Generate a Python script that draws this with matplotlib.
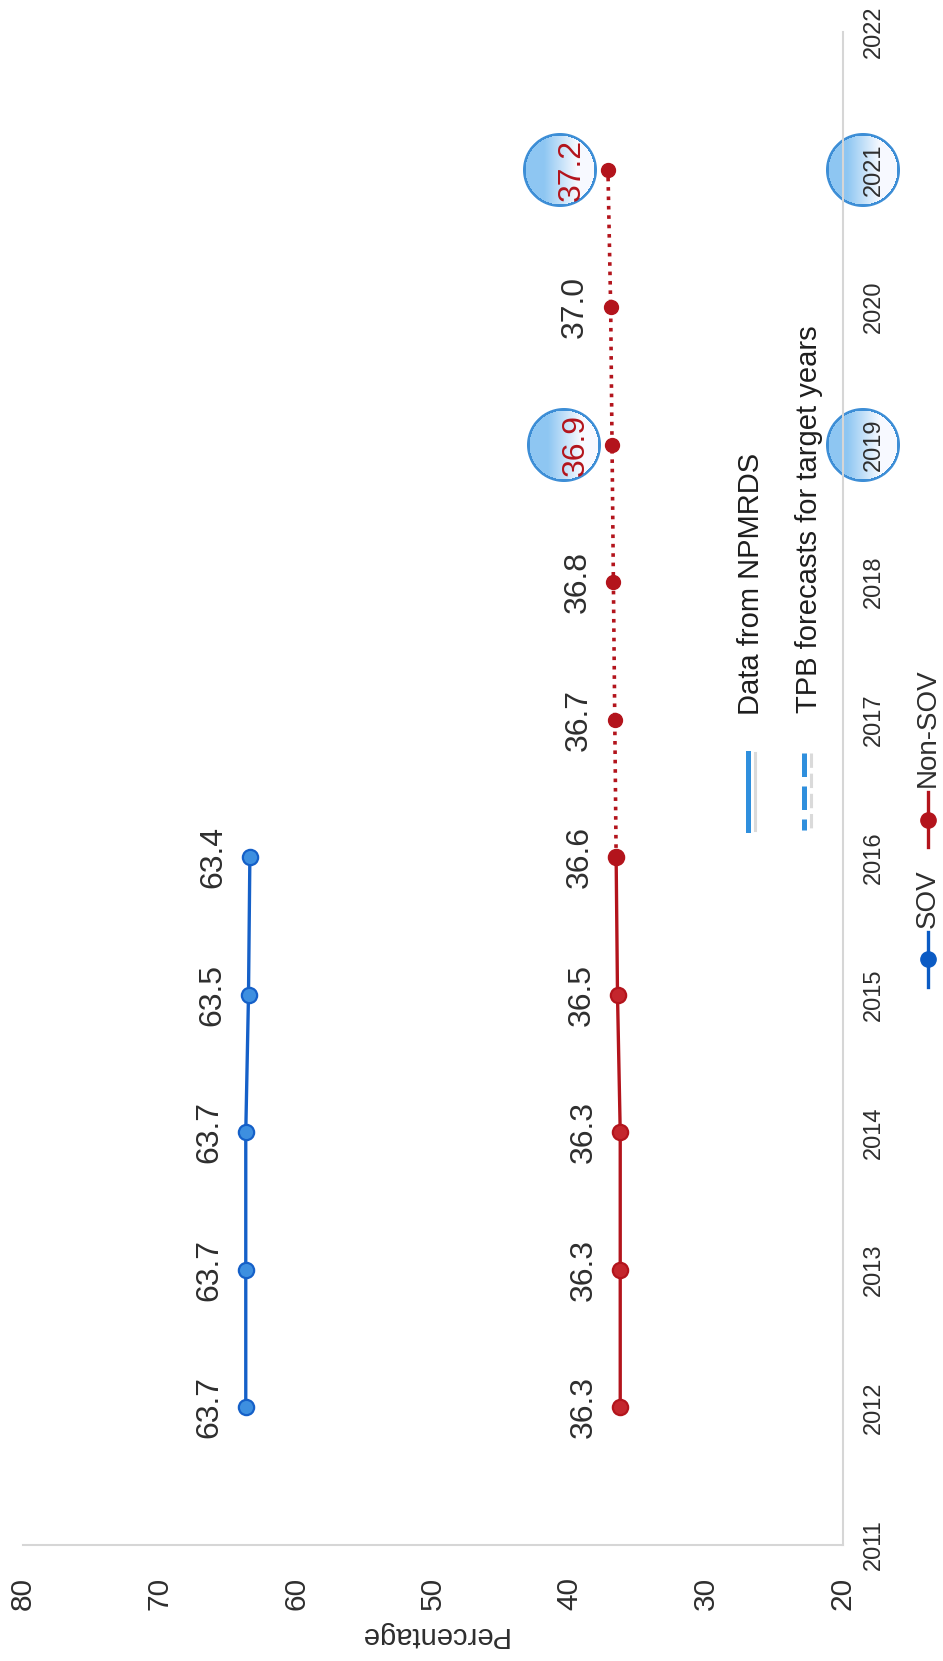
import numpy as np
import matplotlib
matplotlib.use("Agg")
import matplotlib.pyplot as plt
from matplotlib.lines import Line2D
from matplotlib.offsetbox import OffsetImage, AnnotationBbox

# dados
anos = [2012, 2013, 2014, 2015, 2016]
sov = [63.7, 63.7, 63.7, 63.5, 63.4]
nao_sov = [36.3, 36.3, 36.3, 36.5, 36.6]
anos_previsao = [2016, 2017, 2018, 2019, 2020, 2021]
nao_sov_previsao = [36.6, 36.7, 36.8, 36.9, 37.0, 37.2]
anos_alvo = [2019, 2021]
anos_eixo = list(range(2011, 2023))
ticks_pct = [20, 30, 40, 50, 60, 70, 80]

W, H, DPI = 943, 1661, 100
AZUL = "#1560c8"
VERMELHO = "#b3141c"
CINZA_TEXTO = "#2e2e2e"

plt.rcParams["font.family"] = ["Liberation Sans", "DejaVu Sans"]


def fx(x):
    return x / W


def fy(y):
    return 1 - y / H


def px(v):
    # pixels -> pontos
    return v * 72 / DPI


#Circulo com gradiente (azul -> branco)
def CirculoGradiente(raio=37):
    n = 2 * raio + 4
    yy, xx = np.mgrid[0:n, 0:n] + 0.5
    c = n / 2
    d = np.hypot(xx - c, yy - c)
    t = np.clip((xx / n - 0.3) / 0.42, 0, 1)[..., None]
    azul = np.array([0.56, 0.78, 0.95])
    branco = np.array([0.97, 0.98, 1.0])
    rgb = azul * (1 - t) + branco * t
    anel = (d > raio - 2.6) & (d <= raio + 0.5)
    rgb[anel] = [0.24, 0.56, 0.84]
    alpha = np.clip(raio + 0.5 - d, 0, 1)
    return np.dstack([rgb, alpha])


def ColocarCirculo(ax, xy, xycoords, dx_px, zorder):
    img = OffsetImage(CirculoGradiente(), zoom=72 / DPI)
    ab = AnnotationBbox(img, xy, xycoords=xycoords, xybox=(px(dx_px), 0),
                        boxcoords="offset points", frameon=False, pad=0)
    ab.set_zorder(zorder)
    ax.add_artist(ab)


#Rotulos dos pontos (texto girado)
def Rotular(ax, xs, ys, destaque=()):
    for v, a in zip(xs, ys):
        cor = VERMELHO if a in destaque else CINZA_TEXTO
        ax.annotate(f"{v:.1f}", (v, a), xytext=(px(-36), 0), textcoords="offset points",
                    rotation=90, ha="center", va="center", fontsize=23, color=cor, zorder=6)


def EntradaLegenda(fig, x, y1, y2, cor, texto, y_texto):
    fig.add_artist(Line2D([fx(x), fx(x)], [fy(y1), fy(y2)], color=cor, lw=2.4,
                          transform=fig.transFigure))
    fig.add_artist(Line2D([fx(x)], [fy((y1 + y2) / 2)], color=cor, marker="o", ms=11,
                          transform=fig.transFigure))
    fig.text(fx(x), fy(y_texto), texto, rotation=90, ha="center", va="bottom",
             fontsize=20, color=CINZA_TEXTO)


def LinhaFonte(fig, x, estilo):
    # sombra cinza + linha azul
    fig.add_artist(Line2D([fx(x + 7)] * 2, [fy(753), fy(830)], color="#dadada", lw=2.2,
                          ls=estilo, transform=fig.transFigure))
    fig.add_artist(Line2D([fx(x)] * 2, [fy(753), fy(830)], color="#2f8fdd", lw=3.6,
                          ls=estilo, transform=fig.transFigure))


def main():
    fig = plt.figure(figsize=(W / DPI, H / DPI), dpi=DPI)
    ax = fig.add_axes([fx(23), fy(1545), (843 - 23) / W, (1545 - 32) / H])

    ax.set_xlim(80, 20)
    ax.set_ylim(2011, 2022)

    ax.plot(sov, anos, color=AZUL, lw=2.4, marker="o", ms=11, mfc="#3d8fe0",
            mec=AZUL, mew=1.6, zorder=4)
    ax.plot(nao_sov, anos, color=VERMELHO, lw=2.4, marker="o", ms=11, mfc="#c4262d",
            mec=VERMELHO, mew=1.6, zorder=4)
    ax.plot(nao_sov_previsao, anos_previsao, color=VERMELHO, lw=2.6, ls=(0, (1, 1.6)),
            marker="o", ms=10, mfc=VERMELHO, mec=VERMELHO, zorder=4)

    Rotular(ax, sov, anos)
    Rotular(ax, nao_sov, anos)
    Rotular(ax, nao_sov_previsao[1:], anos_previsao[1:], destaque=anos_alvo)

    # circulos nos anos alvo (os dos anos ficam atras dos rotulos do eixo)
    for a in anos_alvo:
        v = nao_sov_previsao[anos_previsao.index(a)]
        ColocarCirculo(ax, (v, a), "data", -48, 3)
        ColocarCirculo(ax, (1, a), ("axes fraction", "data"), 20, 0.5)

    ax.set_xticks(ticks_pct)
    ax.set_yticks(anos_eixo)
    ax.yaxis.tick_right()
    ax.tick_params(axis="x", length=0, pad=23, labelsize=21.5, labelcolor=CINZA_TEXTO,
                   labelrotation=90)
    ax.tick_params(axis="y", length=0, pad=14, labelsize=17, labelcolor=CINZA_TEXTO,
                   labelrotation=90)
    for t in ax.get_yticklabels():
        t.set_verticalalignment("center")
    ax.set_xlabel("Percentage", rotation=180, fontsize=21, color=CINZA_TEXTO, labelpad=8)
    ax.xaxis.set_zorder(2)
    ax.yaxis.set_zorder(2)

    for lado in ["top", "left"]:
        ax.spines[lado].set_visible(False)
    for lado in ["bottom", "right"]:
        ax.spines[lado].set_color("#d6d6d6")
        ax.spines[lado].set_linewidth(1.5)

    # legenda das fontes de dados
    LinhaFonte(fig, 748, "-")
    LinhaFonte(fig, 804, (0, (4.7, 1.9)))
    fig.text(fx(751), fy(715), "Data from NPMRDS", rotation=90, ha="center", va="bottom",
             fontsize=21, color="#1e1e1e")
    fig.text(fx(809), fy(713), "TPB forecasts for target years", rotation=90, ha="center",
             va="bottom", fontsize=21, color="#1e1e1e")

    # legenda das series
    EntradaLegenda(fig, 928, 932, 987, "#0b5bc4", "SOV", 928)
    EntradaLegenda(fig, 928, 792, 847, VERMELHO, "Non-SOV", 787)

    fig.savefig("out.png", dpi=DPI)
    return 0


if __name__ == "__main__":
    SystemExit(main())
